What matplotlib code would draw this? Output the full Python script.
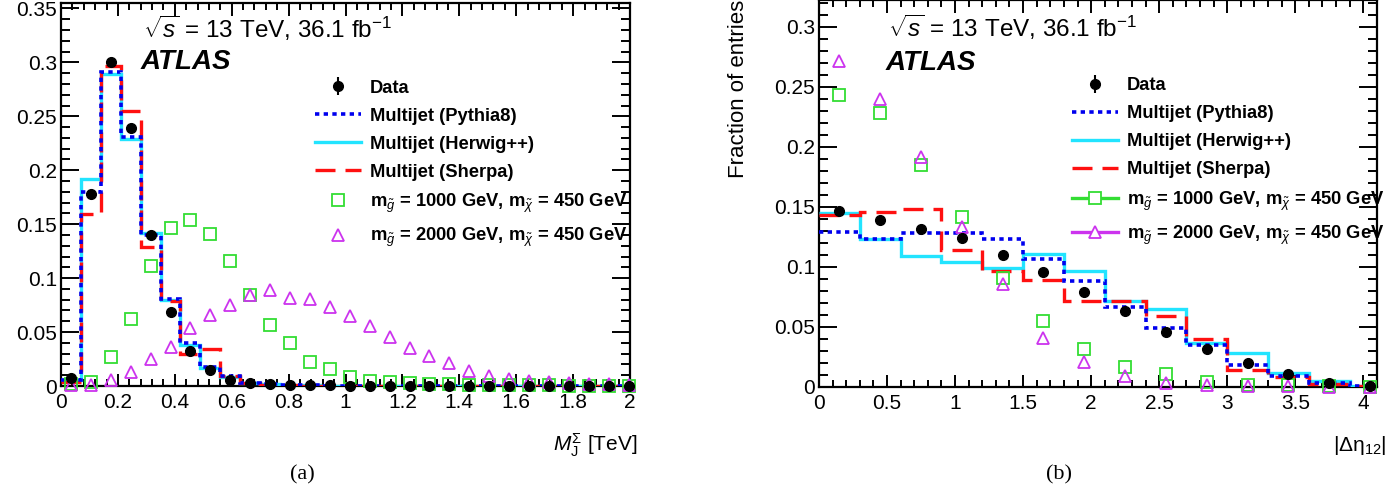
import numpy as np
import matplotlib
matplotlib.use('Agg')
import matplotlib.pyplot as plt
from matplotlib.lines import Line2D
from matplotlib.ticker import MultipleLocator, FuncFormatter

plt.rcParams['font.family'] = ['Liberation Sans', 'DejaVu Sans']
plt.rcParams['mathtext.fontset'] = 'custom'
plt.rcParams['mathtext.rm'] = 'Liberation Sans'
plt.rcParams['mathtext.it'] = 'Liberation Sans:italic'
plt.rcParams['mathtext.bf'] = 'Liberation Sans:bold'

# Panel (a): M_J^Sigma, 29 bins of 0.07 TeV
edges_a = np.arange(30) * 0.07
data_a = [0.007, 0.178, 0.300, 0.239, 0.140, 0.069, 0.032, 0.015, 0.006, 0.003,
          0.0015, 0.001, 0.0007, 0.0005, 0.0004, 0.0003, 0.0002, 0.0002, 0.0001, 0.0001,
          0.0001, 0.0001, 0.0001, 0.0, 0.0, 0.0, 0.0, 0.0, 0.0]
pythia_a = [0.006, 0.180, 0.291, 0.231, 0.140, 0.081, 0.040, 0.018, 0.009, 0.003,
            0.0015, 0.001, 0.0005, 0.0003, 0.0002, 0.0001, 0.0001, 0.0, 0.0, 0.0,
            0.0, 0.0, 0.0, 0.0, 0.0, 0.0, 0.0, 0.0, 0.0]
herwig_a = [0.006, 0.192, 0.289, 0.229, 0.142, 0.080, 0.038, 0.017, 0.008, 0.003,
            0.0015, 0.001, 0.0005, 0.0003, 0.0002, 0.0001, 0.0001, 0.0, 0.0, 0.0,
            0.0, 0.0, 0.0, 0.0, 0.0, 0.0, 0.0, 0.0, 0.0]
sherpa_a = [0.004, 0.159, 0.297, 0.255, 0.129, 0.079, 0.030, 0.034, 0.009, 0.003,
            0.001, 0.0005, 0.0003, 0.0002, 0.0001, 0.0, 0.0, 0.0, 0.0, 0.0,
            0.0, 0.0, 0.0, 0.0, 0.0, 0.0, 0.0, 0.0, 0.0]
sig1000_a = [0.002, 0.004, 0.027, 0.062, 0.111, 0.146, 0.154, 0.141, 0.116, 0.084,
             0.057, 0.040, 0.022, 0.016, 0.008, 0.005, 0.004, 0.003, 0.002, 0.0015,
             0.001, 0.001, 0.0008, 0.0006, 0.0005, 0.0004, 0.0003, 0.0002, 0.0002]
sig2000_a = [0.001, 0.001, 0.006, 0.013, 0.025, 0.036, 0.054, 0.066, 0.075, 0.084,
             0.089, 0.082, 0.081, 0.073, 0.065, 0.056, 0.045, 0.035, 0.028, 0.021,
             0.014, 0.009, 0.0065, 0.005, 0.004, 0.003, 0.002, 0.0015, 0.001]

# Panel (b): |Delta eta_12|, 14 bins of 0.3
edges_b = np.arange(15) * 0.3
data_b = [0.147, 0.139, 0.132, 0.124, 0.110, 0.096, 0.079, 0.063, 0.046, 0.032,
          0.020, 0.011, 0.0035, 0.0008]
pythia_b = [0.129, 0.123, 0.128, 0.128, 0.123, 0.107, 0.088, 0.067, 0.049, 0.035,
            0.0185, 0.009, 0.003, 0.001]
herwig_b = [0.145, 0.123, 0.109, 0.104, 0.099, 0.111, 0.097, 0.072, 0.065, 0.037,
            0.028, 0.012, 0.005, 0.001]
sherpa_b = [0.143, 0.146, 0.148, 0.114, 0.097, 0.089, 0.0715, 0.072, 0.0595, 0.040,
            0.0143, 0.0085, 0.0025, 0.0005]
sig1000_b = [0.243, 0.228, 0.185, 0.142, 0.091, 0.055, 0.032, 0.017, 0.011, 0.004,
             0.002, 0.002, 0.001, 0.0]
sig2000_b = [0.272, 0.240, 0.192, 0.133, 0.086, 0.041, 0.021, 0.009, 0.0035, 0.002,
             0.001, 0.0005, 0.0, 0.0]

labels = ['Data', 'Multijet (Pythia8)', 'Multijet (Herwig++)', 'Multijet (Sherpa)',
          r'm$_{\tilde{g}}$ = 1000 GeV, m$_{\tilde{\chi}}$ = 450 GeV',
          r'm$_{\tilde{g}}$ = 2000 GeV, m$_{\tilde{\chi}}$ = 450 GeV']

c_blue = '#0000ee'
c_cyan = '#22e4ff'
c_red = '#ff1010'
c_green = '#33dd33'
c_mag = '#cc33ee'


def draw_panel(ax, edges, data, pythia, herwig, sherpa, s1000, s2000, sig_lines):
    centers = 0.5 * (edges[:-1] + edges[1:])
    ax.stairs(pythia, edges, baseline=None, color=c_blue, lw=2.6,
              linestyle=(0, (1.2, 1.2)), zorder=4)
    ax.stairs(herwig, edges, baseline=None, color=c_cyan, lw=2.4, zorder=3)
    ax.stairs(sherpa, edges, baseline=None, color=c_red, lw=2.4,
              linestyle=(0, (6, 3)), zorder=3.5)
    s1 = ax.plot(centers, s1000, ls='none', marker='s', ms=8, mfc='none', mec=c_green,
                 mew=1.3, clip_on=False, zorder=5)[0]
    s2 = ax.plot(centers, s2000, ls='none', marker='^', ms=8.5, mfc='none', mec=c_mag,
                 mew=1.3, clip_on=False, zorder=5)[0]
    d = ax.errorbar(centers, data, yerr=np.zeros(len(data)), fmt='o', color='black',
                    ms=7, elinewidth=1.5, zorder=6)
    d.lines[0].set_clip_on(False)
    hp = Line2D([], [], color=c_blue, lw=2.6, linestyle=(0, (1.2, 1.2)))
    hh = Line2D([], [], color=c_cyan, lw=2.4)
    hs = Line2D([], [], color=c_red, lw=2.4, linestyle=(0, (6, 3)))
    if sig_lines:
        g1 = Line2D([], [], color=c_green, lw=2.4, marker='s', ms=8, mfc='white', mec=c_green, mew=1.3)
        g2 = Line2D([], [], color=c_mag, lw=2.4, marker='^', ms=8.5, mfc='white', mec=c_mag, mew=1.3)
    else:
        g1 = s1
        g2 = s2
    return [d, hp, hh, hs, g1, g2]


def style_axes(ax, xmaj, xmin, ymaj, ymin):
    ax.xaxis.set_major_locator(MultipleLocator(xmaj))
    ax.xaxis.set_minor_locator(MultipleLocator(xmin))
    ax.yaxis.set_major_locator(MultipleLocator(ymaj))
    ax.yaxis.set_minor_locator(MultipleLocator(ymin))
    fmt = FuncFormatter(lambda v, p: '%g' % round(v, 4))
    ax.xaxis.set_major_formatter(fmt)
    ax.yaxis.set_major_formatter(fmt)
    ax.tick_params(which='both', direction='in', top=True, right=True, width=1.4,
                   labelsize=15)
    ax.tick_params(axis='y', which='major', length=13, pad=3)
    ax.tick_params(axis='y', which='minor', length=6.5)
    ax.tick_params(axis='x', which='major', length=9, pad=5)
    ax.tick_params(axis='x', which='minor', length=5)
    for sp in ax.spines.values():
        sp.set_linewidth(1.6)


fig = plt.figure(figsize=(13.89, 4.94), dpi=100)
ax1 = fig.add_axes([0.0439, 0.2186, 0.4097, 0.7753])
ax2 = fig.add_axes([0.5896, 0.2166, 0.4017, 0.7834])

h1 = draw_panel(ax1, edges_a, data_a, pythia_a, herwig_a, sherpa_a, sig1000_a, sig2000_a, False)
ax1.set_xlim(0, 2.0)
ax1.set_ylim(0, 0.355)
style_axes(ax1, 0.2, 0.04, 0.05, 0.01)

h2 = draw_panel(ax2, edges_b, data_b, pythia_b, herwig_b, sherpa_b, sig1000_b, sig2000_b, True)
ax2.set_xlim(0, 4.1)
ax2.set_ylim(0, 0.3225)
style_axes(ax2, 0.5, 0.1, 0.05, 0.01)

for ax, h, lx, tx, ty, ay in [(ax1, h1, 0.446, 0.144, 0.935, 0.846),
                               (ax2, h2, 0.453, 0.124, 0.930, 0.837)]:
    ax.text(tx, ty, r'$\sqrt{s}$ = 13 TeV, 36.1 fb$^{-1}$', transform=ax.transAxes,
            fontsize=17.5, va='center', ha='left')
    ax.text(tx - 0.004, ay, 'ATLAS', transform=ax.transAxes, fontsize=20,
            fontweight='bold', fontstyle='italic', va='center', ha='left')
    ax.legend(h, labels, loc='upper left', bbox_to_anchor=(lx, 0.80), frameon=False,
              prop={'weight': 'bold', 'size': 13.2}, handlelength=2.5, handletextpad=0.5,
              labelspacing=0.6, borderpad=0, borderaxespad=0)

fig.text(637 / 1389, 1 - 445 / 494, r'$M_{\mathrm{J}}^{\Sigma}$ [TeV]', fontsize=15,
         ha='right', va='center')
fig.text(1387 / 1389, 1 - 445 / 494, r'|Δη$_{\mathregular{12}}$|', fontsize=15,
         ha='right', va='center')
fig.text(738 / 1389, 1.0, 'Fraction of entries', rotation=90, fontsize=16,
         ha='center', va='top')
fig.text(302 / 1389, 1 - 475 / 494, '(a)', fontsize=16, family='Liberation Serif',
         ha='center', va='center')
fig.text(1059 / 1389, 1 - 475 / 494, '(b)', fontsize=16, family='Liberation Serif',
         ha='center', va='center')

fig.savefig('out.png', dpi=100)
